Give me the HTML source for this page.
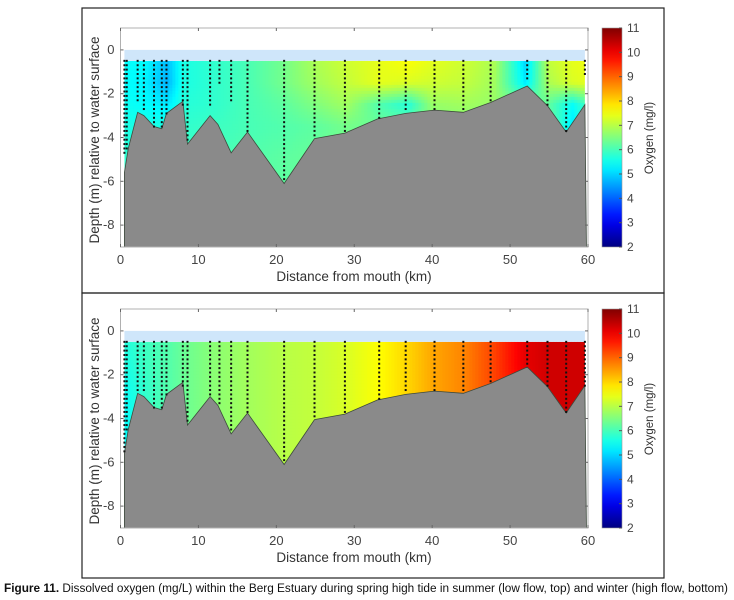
<!DOCTYPE html>
<html><head><meta charset="utf-8">
<style>
html,body{margin:0;padding:0;background:#fff;}
svg{display:block;font-family:"Liberation Sans",sans-serif;}
</style></head>
<body>
<svg id="fig" width="734" height="600" viewBox="0 0 734 600" xmlns="http://www.w3.org/2000/svg"></svg>
<script>
// ---- data ----
const profileX = [0.5,1,2.2,3,4.3,5.3,5.9,8,8.6,11.5,12.5,14.2,16.3,21,24.9,28.8,33,36.6,40.3,44,47.5,52.2,54.8,57.2,59.6];
const profileDepth = [-5.6,-4.5,-2.85,-3,-3.5,-3.6,-2.9,-2.35,-4.3,-3,-3.4,-4.7,-3.75,-6.1,-4.05,-3.8,-3.15,-2.9,-2.75,-2.85,-2.4,-1.65,-2.55,-3.75,-2.5];
const stationX = [0.5,0.8,2.2,3,4.3,5.3,5.9,8,8.6,11.5,12.7,14.2,16.3,21,24.9,28.8,33.2,36.6,40.3,44,47.5,52.2,54.8,57.2,59.6];
const stationBottomTop = [-4.8,-4.5,-2.3,-2.8,-3.5,-3.5,-2.9,-2.5,-4.2,-2.5,-1.5,-2.3,-3.7,-6.0,-4.0,-3.7,-3.1,-2.8,-2.7,-2.8,-2.3,-1.3,-2.5,-3.7,-1.2];
const stationBottomBot = [-5.6,-4.5,-2.8,-2.8,-3.5,-3.5,-2.9,-2.5,-4.2,-2.9,-3.4,-4.6,-3.7,-6.0,-4.0,-3.7,-3.1,-2.8,-2.7,-2.8,-2.3,-1.6,-2.5,-3.7,-2.5];
const gridX = [0,3,6,8,12,16,21,25,29,33,37,40,44,48,52,55,58,60];
const gridDepth = [-0.5,-1.5,-2.5,-3.5,-5,-6.5];
const summer = [
 [5.4,5.4,4.8,5.6,5.8,6.0,6.4,6.9,7.2,7.4,7.6,7.4,7.2,6.9,5.0,7.1,7.4,7.5],
 [5.4,5.3,4.7,5.6,5.8,6.0,6.4,6.8,7.1,7.4,7.3,7.2,7.1,6.8,5.2,6.9,7.3,7.4],
 [5.5,5.4,5.2,5.7,5.8,6.0,6.2,6.5,6.8,6.1,5.7,6.7,6.8,6.7,6.4,6.2,5.4,6.0],
 [5.6,5.6,5.6,5.8,5.9,6.0,6.1,6.2,6.4,6.3,6.3,6.5,6.5,6.5,6.4,6.3,5.2,6.0],
 [5.8,5.8,5.8,5.9,6.0,6.1,6.2,6.3,6.4,6.4,6.4,6.5,6.5,6.5,6.4,6.3,5.9,6.0],
 [5.8,5.8,5.8,5.9,6.0,6.1,6.2,6.3,6.4,6.4,6.4,6.5,6.5,6.5,6.4,6.3,5.9,6.0]];
const winter = [
 [5.6,5.9,6.1,6.3,6.6,6.8,7.0,7.1,7.3,7.6,8.0,8.4,8.7,9.3,10.1,10.3,10.3,10.3],
 [5.5,5.9,6.1,6.3,6.6,6.8,7.0,7.1,7.3,7.6,8.0,8.4,8.7,9.3,10.1,10.3,10.3,10.3],
 [5.4,5.8,6.1,6.3,6.6,6.8,7.0,7.1,7.3,7.6,8.0,8.4,8.7,9.3,10.0,10.3,10.3,10.3],
 [5.3,5.8,6.1,6.3,6.6,6.8,7.0,7.1,7.3,7.6,8.0,8.4,8.7,9.3,10.0,10.3,10.3,10.3],
 [5.3,5.8,6.1,6.3,6.6,6.8,7.0,7.1,7.3,7.6,8.0,8.4,8.7,9.3,10.0,10.3,10.3,10.3],
 [5.3,5.8,6.1,6.3,6.6,6.8,7.0,7.1,7.3,7.6,8.0,8.4,8.7,9.3,10.0,10.3,10.3,10.3]];
const xTicks = [0,10,20,30,40,50,60];
const yTicks = [0,-2,-4,-6,-8];
const cbTicks = [2,3,4,5,6,7,8,9,10,11];

const NS = "http://www.w3.org/2000/svg";
const svg = document.getElementById('fig');
function mk(tag, attrs, parent){const e=document.createElementNS(NS,tag);for(const k in attrs)e.setAttribute(k,attrs[k]);(parent||svg).appendChild(e);return e;}
function jet(v){
  let t=(v-2)/9; t=Math.max(0,Math.min(1,t));
  const f=x=>Math.max(0,Math.min(1,x));
  const r=f(Math.min(4*t-1.5,-4*t+4.5)), g=f(Math.min(4*t-0.5,-4*t+3.5)), b=f(Math.min(4*t+0.5,-4*t+2.5));
  return `rgb(${Math.round(r*255)},${Math.round(g*255)},${Math.round(b*255)})`;
}
function interp(arrX, arrY, x){
  if(x<=arrX[0])return arrY[0];
  for(let i=1;i<arrX.length;i++){ if(x<=arrX[i]){const t=(x-arrX[i-1])/(arrX[i]-arrX[i-1]);return arrY[i-1]+t*(arrY[i]-arrY[i-1]);}}
  return arrY[arrY.length-1];
}
function field(grid,x,d){
  const col = grid.map(row=>interp(gridX,row,x));
  const ds = gridDepth.map(v=>-v);
  return interp(ds,col,-d);
}

function panel(top, axOff, grid, name){
  const g = mk('g',{}, svg);
  
  
  const box = mk('rect',{x:82,y:top,width:582,height:285,fill:'none',stroke:'#222','stroke-width':1.2},g);
   
  const axT = top+axOff, axB = axT+219, axL=120.5, axR=588;
  const xs = v=>axL+(v/60)*(axR-axL);
  const ys = v=>axT+(1-v)*(219/10);
  const cid = name+'-clip';
  const defs = mk('defs',{},g);
  const cp = mk('clipPath',{id:cid},defs);
  let pts = `${xs(profileX[0])},${ys(-0.5)} `;
  for(let i=0;i<profileX.length;i++) pts += `${xs(profileX[i])},${ys(profileDepth[i])} `;
  pts += `${xs(profileX[profileX.length-1])},${ys(-0.5)}`;
  mk('polygon',{points:pts},cp);
  const sb = mk('rect',{x:xs(0.5),y:ys(0),width:xs(59.6)-xs(0.5),height:ys(-0.5)-ys(0),fill:'#cfe6fa'},g);
   
  const fg = mk('g',{'clip-path':`url(#${cid})`},g);
   
  const step=3;
  for(let px=xs(0.5);px<xs(59.6);px+=step){
    for(let py=ys(-0.5);py<ys(-6.2);py+=step){
      const x=(px+step/2-axL)/(axR-axL)*60, d=1-(py+step/2-axT)/(219/10);
      mk('rect',{x:px,y:py,width:step+0.4,height:step+0.4,fill:jet(field(grid,x,d))},fg);
    }
  }
  let bp = `${xs(0.5)},${ys(-9)} `;
  for(let i=0;i<profileX.length;i++) bp += `${xs(profileX[i])},${ys(profileDepth[i])} `;
  bp += `${xs(59.8)},${ys(-9)}`;
  const bed = mk('polygon',{points:bp,fill:'#8a8a8a',stroke:'#3d4a3d','stroke-width':0.8},g);
   
  const sg = mk('g',{fill:'#111'},g);
   
  for(let i=0;i<stationX.length;i++){
    const bot = (name==='winter-panel')?stationBottomBot[i]:stationBottomTop[i];
    for(let d=-0.5; d>=bot-0.01; d-=0.2){
      mk('rect',{x:xs(stationX[i])-1,y:ys(d)-1,width:2,height:2},sg);
    }
  }
  const ab = mk('rect',{x:axL,y:axT,width:axR-axL,height:219,fill:'none',stroke:'#b0b0b0','stroke-width':1},g);
   
  const tg = mk('g',{fill:'#444','font-size':13},g);
  xTicks.forEach(v=>{
    mk('line',{x1:xs(v),x2:xs(v),y1:axB,y2:axB-3,stroke:'#666'},g);
    mk('line',{x1:xs(v),x2:xs(v),y1:axT,y2:axT+3,stroke:'#666'},g);
    const t=mk('text',{x:xs(v),y:axB+17,'text-anchor':'middle'},tg); t.textContent=v;
     
  });
  yTicks.forEach(v=>{
    mk('line',{x1:axL,x2:axL+3,y1:ys(v),y2:ys(v),stroke:'#666'},g);
    mk('line',{x1:axR,x2:axR-3,y1:ys(v),y2:ys(v),stroke:'#666'},g);
    const t=mk('text',{x:axL-6,y:ys(v)+4,'text-anchor':'end'},tg); t.textContent=v;
     
  });
  const xt = mk('text',{x:354,y:axB+34,'text-anchor':'middle','font-size':13.5,fill:'#333'},g);
  xt.textContent='Distance from mouth (km)';
   
  const yt = mk('text',{x:0,y:0,'text-anchor':'middle','font-size':13.5,fill:'#333',transform:`translate(99,${axT+112}) rotate(-90)`},g);
  yt.textContent='Depth (m) relative to water surface';
   
  const gid = name+'-cb';
  const lg = mk('linearGradient',{id:gid,x1:0,y1:1,x2:0,y2:0},defs);
  for(let k=0;k<=20;k++){ mk('stop',{offset:k/20,'stop-color':jet(2+9*k/20)},lg); }
  const cb = mk('rect',{x:602,y:axT,width:20,height:219,fill:`url(#${gid})`,stroke:'#999','stroke-width':0.6},g);
   
  const cy = v=>axT+219-(v-2)/9*219;
  cbTicks.forEach(v=>{
    mk('line',{x1:619,x2:622,y1:cy(v),y2:cy(v),stroke:'#555'},g);
    const t=mk('text',{x:627,y:cy(v)+4,'font-size':12,fill:'#444'},g); t.textContent=v;
     
  });
  const cl = mk('text',{x:0,y:0,'text-anchor':'middle','font-size':11.5,fill:'#333',transform:`translate(653,${axT+110}) rotate(-90)`},g);
  cl.textContent='Oxygen (mg/l)';
   
}
panel(8, 20, summer, 'summer-panel');
panel(293, 16, winter, 'winter-panel');
const cap = mk('text',{x:4,y:592,'font-size':11.5,fill:'#111',textLength:724,lengthAdjust:'spacingAndGlyphs'});
 
const b = mk('tspan',{'font-weight':'bold'},cap); b.textContent='Figure 11.';
const r = mk('tspan',{},cap); r.textContent=' Dissolved oxygen (mg/L) within the Berg Estuary during spring high tide in summer (low flow, top) and winter (high flow, bottom)';
</script>
</body></html>
